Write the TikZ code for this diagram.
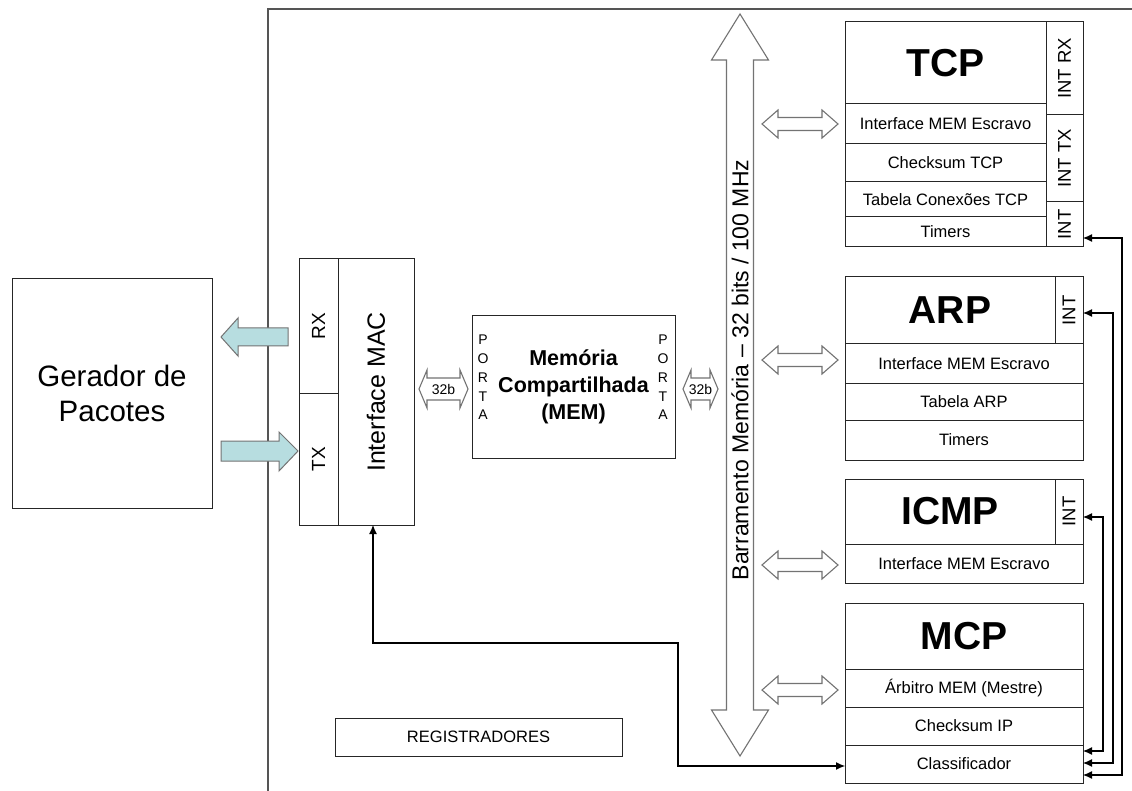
\documentclass[tikz,border=0pt]{standalone}
\usepackage{fontspec}
\setmainfont{Liberation Sans}
\usepackage{graphicx}
\usetikzlibrary{arrows.meta}
\definecolor{lblue}{RGB}{183,221,224}
\definecolor{agray}{RGB}{115,115,115}
\definecolor{fgray}{RGB}{85,85,85}
\newcommand{\rowf}{\fontsize{16.5}{19}\selectfont}
\newcommand{\intf}{\fontsize{18.5}{20}\selectfont}
\newcommand{\hdarrow}[6]{%
 \pgfmathsetmacro\hxa{#1+#6}\pgfmathsetmacro\hxb{#2-#6}%
 \pgfmathsetmacro\hya{#3-#4}\pgfmathsetmacro\hyb{#3-#5}%
 \pgfmathsetmacro\hyc{#3+#5}\pgfmathsetmacro\hyd{#3+#4}%
 \draw[bigarrow] (#1,#3) -- (\hxa,\hya) -- (\hxa,\hyb) -- (\hxb,\hyb) -- (\hxb,\hya) -- (#2,#3)
   -- (\hxb,\hyd) -- (\hxb,\hyc) -- (\hxa,\hyc) -- (\hxa,\hyd) -- cycle;}
\tikzset{
 cell/.style={draw=black!85, line width=1pt, inner sep=0pt, outer sep=0pt, anchor=north west, font=\rowf},
 titlecell/.style={cell, font=\fontsize{39}{44}\selectfont\bfseries},
 intcell/.style={cell, font=\intf},
 bigarrow/.style={draw=agray, fill=white, line width=1.1pt, line join=miter},
 lbarrow/.style={draw=agray, fill=lblue, line width=1pt, line join=miter},
 conn/.style={draw=black, line width=1.1pt, {Latex[length=9pt,width=8pt]}-{Latex[length=9pt,width=8pt]}},
}
\begin{document}
\begin{tikzpicture}[x=1pt,y=-1pt]
\useasboundingbox (0,0) rectangle (1132,791);
\fill[white] (0,0) rectangle (1132,791);
% frame
\draw[fgray, line width=1.5pt] (268,791) -- (268,9) -- (1132,9);

% Gerador
\node[cell, minimum width=200pt, minimum height=229pt, align=center, font=\fontsize{29.5}{35}\selectfont] (ger) at (12,279) {Gerador de\\Pacotes};

% MAC
\node[cell, minimum width=39pt, minimum height=134pt, font=\fontsize{19}{21}\selectfont] (macRx) at (299,259) {\rotatebox{90}{RX}};
\node[cell, minimum width=39pt, minimum height=132pt, font=\fontsize{19}{21}\selectfont] (macTx) at (299,393) {\rotatebox{90}{TX}};
\node[cell, minimum width=76pt, minimum height=266pt, font=\fontsize{25}{27}\selectfont] (mac) at (338,259) {\rotatebox{90}{Interface MAC}};

% light blue arrows
\draw[lbarrow] (221,337) -- (238,318) -- (238,328) -- (288,328) -- (288,346) -- (238,346) -- (238,356) -- cycle;
\draw[lbarrow] (298,451) -- (279,432) -- (279,441) -- (221,441) -- (221,461) -- (279,461) -- (279,471) -- cycle;

% Memory
\node[cell, minimum width=203pt, minimum height=142pt, align=center, font=\fontsize{21.5}{27}\selectfont\bfseries] (mem) at (472,316) {Memória\\Compartilhada\\(MEM)};
\node[align=center, inner sep=0pt, font=\fontsize{14}{18.75}\selectfont] (portaA) at (483,377.5) {P\\O\\R\\T\\A};
\node[align=center, inner sep=0pt, font=\fontsize{14}{18.75}\selectfont] (portaB) at (663,377.5) {P\\O\\R\\T\\A};

% 32b arrows
\hdarrow{419}{468}{389}{19}{11}{8}
\hdarrow{683}{718}{389}{19}{11}{8}
\node[font=\fontsize{14}{15}\selectfont, inner sep=0pt] (b32a) at (443.5,389) {32b};
\node[font=\fontsize{14}{15}\selectfont, inner sep=0pt] (b32b) at (700.5,389) {32b};

% bus
\draw[bigarrow] (740,14) -- (768.5,60) -- (753.5,60) -- (753.5,710) -- (768.5,710) -- (740,756)
  -- (711.5,710) -- (726.5,710) -- (726.5,60) -- (711.5,60) -- cycle;
\node[rotate=90, font=\fontsize{23}{25}\selectfont, inner sep=0pt] (bustxt) at (740,370) {Barramento Memória – 32 bits / 100 MHz};

% bus-to-block arrows
\hdarrow{762}{838}{124}{14}{6.5}{16}
\hdarrow{762}{838}{360}{14}{6.5}{16}
\hdarrow{762}{838}{565}{14}{6.5}{16}
\hdarrow{762}{838}{690}{14}{6.5}{16}

% TCP
\node[titlecell, minimum width=201pt, minimum height=82pt] (tcpTitle) at (845,22) {TCP};
\node[cell, minimum width=201pt, minimum height=40pt] (tcpIf) at (845,104) {Interface MEM Escravo};
\node[cell, minimum width=201pt, minimum height=38pt] (tcpCk) at (845,144) {Checksum TCP};
\node[cell, minimum width=201pt, minimum height=35pt] (tcpTab) at (845,182) {Tabela Conexões TCP};
\node[cell, minimum width=201pt, minimum height=30pt] (tcpTim) at (845,217) {Timers};
\node[intcell, minimum width=37pt, minimum height=93pt] (tcpIntRx) at (1046,22) {\rotatebox{90}{INT RX}};
\node[intcell, minimum width=37pt, minimum height=87pt] (tcpIntTx) at (1046,115) {\rotatebox{90}{INT TX}};
\node[intcell, minimum width=37pt, minimum height=45pt] (tcpInt) at (1046,202) {\rotatebox{90}{INT}};

% ARP
\node[titlecell, minimum width=210pt, minimum height=67pt] (arpTitle) at (845,277) {ARP};
\node[intcell, minimum width=28pt, minimum height=67pt] (arpInt) at (1055,277) {\rotatebox{90}{INT}};
\node[cell, minimum width=238pt, minimum height=39pt] (arpIf) at (845,344) {Interface MEM Escravo};
\node[cell, minimum width=238pt, minimum height=37pt] (arpTab) at (845,383) {Tabela ARP};
\node[cell, minimum width=238pt, minimum height=40pt] (arpTim) at (845,420) {Timers};

% ICMP
\node[titlecell, minimum width=210pt, minimum height=65pt] (icmpTitle) at (845,479) {ICMP};
\node[intcell, minimum width=28pt, minimum height=65pt] (icmpInt) at (1055,479) {\rotatebox{90}{INT}};
\node[cell, minimum width=238pt, minimum height=39pt] (icmpIf) at (845,544) {Interface MEM Escravo};

% MCP
\node[titlecell, minimum width=238pt, minimum height=66pt] (mcpTitle) at (845,603) {MCP};
\node[cell, minimum width=238pt, minimum height=38pt] (mcpArb) at (845,669) {Árbitro MEM (Mestre)};
\node[cell, minimum width=238pt, minimum height=38pt] (mcpCk) at (845,707) {Checksum IP};
\node[cell, minimum width=238pt, minimum height=38pt] (mcpCl) at (845,745) {Classificador};

% Registradores
\node[cell, minimum width=287pt, minimum height=38pt] (regs) at (335,718) {REGISTRADORES};

% interrupt connectors
\draw[conn] (mcpCl.east |- 0,775) -- (1122,775) -- (1122,238) -- (tcpInt.east |- 0,238);
\draw[conn] (mcpCl.east |- 0,763) -- (1113,763) -- (1113,313) -- (arpInt.east |- 0,313);
\draw[conn] (mcpCl.east |- 0,751) -- (1103,751) -- (1103,517) -- (icmpInt.east |- 0,517);
% MAC <-> Classificador
\draw[conn] (mac.south -| 373,0) -- (373,643) -- (678,643) -- (678,766) -- (mcpCl.west |- 0,766);
\end{tikzpicture}
\end{document}
